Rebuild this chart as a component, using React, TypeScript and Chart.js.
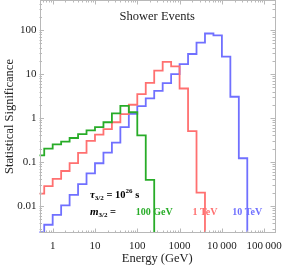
import React, { useEffect, useRef } from 'react';
import { Chart, registerables } from 'chart.js';

Chart.register(...registerables);

// Histogram bin edges (GeV), 5 bins per decade
const binEdges = [
  0.3981, 0.631, 1, 1.585, 2.512, 3.981, 6.31, 10, 15.85, 25.12, 39.81, 63.1,
  100, 158.5, 251.2, 398.1, 631, 1000, 1585, 2512, 3981, 6310, 10000, 15850,
  25120, 39810, 63100,
];

// Statistical significance per bin (starting at first edge)
const green100GeV = [0.14, 0.2, 0.25, 0.29, 0.35, 0.43, 0.52, 0.62, 0.8, 1.28, 1.88, 1.35, 0.4, 0.039];
const red1TeV = [0.019, 0.028, 0.041, 0.062, 0.094, 0.16, 0.3, 0.42, 0.56, 0.8, 1.22, 2.0, 3.5, 6.3, 12, 19, 15, 4.7, 0.5, 0.02];
const blue10TeV = [
  0.0025, 0.0037, 0.0062, 0.0102, 0.0177, 0.031, 0.055, 0.093, 0.163, 0.275, 0.62, 1.25,
  1.87, 2.8, 4.15, 6.2, 10, 16.8, 28.7, 52, 84, 76, 25, 3.05, 0.121,
];

const seriesValues = [green100GeV, red1TeV, blue10TeV];
const seriesNames = ['100 GeV', '1 TeV', '10 TeV'];
const seriesColors = ['rgb(40,172,40)', 'rgb(255,112,112)', 'rgb(112,112,255)'];

const xTickValues = [1, 10, 100, 1000, 10000, 100000];
const xTickLabels = ['1', '10', '100', '1000', '10\u2009000', '100\u2009000'];
const yTickValues = [0.01, 0.1, 1, 10, 100];
const yTickLabels = ['0.01', '0.1', '1', '10', '100'];

const chartTitle = 'Shower Events';
const xTitle = 'Energy (GeV)';
const yTitle = 'Statistical Significance';
const lifetimeBase = '10';
const lifetimeExp = '26';

const X_MIN = 0.488;
const X_MAX = 180000;
const Y_MIN = 0.0024;
const Y_MAX = 487;

const SERIF = "'Liberation Serif', 'Times New Roman', serif";

function histPoints(values: number[]) {
  const pts: { x: number; y: number }[] = values.map((v, i) => ({ x: binEdges[i], y: v }));
  const n = values.length;
  pts.push({ x: binEdges[n], y: values[n - 1] });
  pts.push({ x: binEdges[n], y: 1e-7 });
  return pts;
}

const framePlugin = {
  id: 'mmaFrame',
  afterDatasetsDraw(chart: any) {
    const { ctx, chartArea, scales } = chart;
    const { left, right, top, bottom } = chartArea;
    const xs = scales.x;
    const ys = scales.y;
    ctx.save();
    ctx.strokeStyle = '#b8b8b8';
    ctx.lineWidth = 1;
    ctx.strokeRect(Math.round(left) + 0.5, Math.round(top) + 0.5, Math.round(right - left) - 1, Math.round(bottom - top) - 1);
    ctx.beginPath();
    for (let d = -1; d <= 6; d++) {
      for (let m = 1; m <= 9; m++) {
        const v = m * Math.pow(10, d);
        if (v < X_MIN || v > X_MAX) continue;
        const px = Math.round(xs.getPixelForValue(v)) + 0.5;
        const len = m === 1 ? 4.5 : 2.5;
        ctx.moveTo(px, bottom);
        ctx.lineTo(px, bottom - len);
        ctx.moveTo(px, top);
        ctx.lineTo(px, top + len);
      }
    }
    for (let d = -4; d <= 3; d++) {
      for (let m = 1; m <= 9; m++) {
        const v = m * Math.pow(10, d);
        if (v < Y_MIN || v > Y_MAX) continue;
        const py = Math.round(ys.getPixelForValue(v)) + 0.5;
        const len = m === 1 ? 4.5 : 2.5;
        ctx.moveTo(left, py);
        ctx.lineTo(left + len, py);
        ctx.moveTo(right, py);
        ctx.lineTo(right - len, py);
      }
    }
    ctx.stroke();
    ctx.restore();
  },
};

type Piece = { t: string; font: string; dy?: number; color?: string };

function drawPieces(ctx: CanvasRenderingContext2D, x: number, y: number, pieces: Piece[], center = false) {
  let total = 0;
  for (const p of pieces) {
    ctx.font = p.font;
    total += ctx.measureText(p.t).width;
  }
  let cx = center ? x - total / 2 : x;
  for (const p of pieces) {
    ctx.font = p.font;
    ctx.fillStyle = p.color || '#000';
    ctx.fillText(p.t, cx, y + (p.dy || 0));
    cx += ctx.measureText(p.t).width;
  }
}

const textPlugin = {
  id: 'mmaText',
  afterDraw(chart: any) {
    const { ctx, chartArea, scales } = chart;
    const xs = scales.x;
    const ys = scales.y;
    ctx.save();
    ctx.textBaseline = 'middle';
    ctx.textAlign = 'left';
    // title
    ctx.font = `12.5px ${SERIF}`;
    ctx.fillStyle = '#222';
    ctx.textAlign = 'center';
    ctx.fillText(chartTitle, (chartArea.left + chartArea.right) / 2, chartArea.top + 17);
    ctx.textAlign = 'left';

    const main = `bold 10.5px ${SERIF}`;
    const ital = `italic bold 11px ${SERIF}`;
    const small = `bold 7px ${SERIF}`;
    const rowTau = ys.getPixelForValue(0.0176);
    const rowMass = ys.getPixelForValue(0.0072);
    const xStart = xs.getPixelForValue(7.6);
    drawPieces(ctx, xStart, rowTau, [
      { t: 'τ', font: ital },
      { t: '3/2', font: small, dy: 3 },
      { t: ' = ' + lifetimeBase, font: main },
      { t: lifetimeExp, font: small, dy: -4 },
      { t: ' s', font: main },
    ]);
    drawPieces(ctx, xStart, rowMass, [
      { t: 'm', font: ital },
      { t: '3/2', font: small, dy: 3 },
      { t: ' =', font: main },
    ]);
    seriesValues.forEach((vals, i) => {
      const edge = binEdges[vals.length];
      drawPieces(ctx, xs.getPixelForValue(edge), rowMass, [
        { t: seriesNames[i], font: `bold 10px ${SERIF}`, color: seriesColors[i] },
      ], true);
    });
    ctx.restore();
  },
};

export default function App() {
  const canvasRef = useRef<HTMLCanvasElement | null>(null);

  useEffect(() => {
    const canvas = canvasRef.current;
    if (!canvas) return;
    const datasets = seriesValues.map((vals, i) => ({
      label: seriesNames[i],
      data: histPoints(vals),
      borderColor: seriesColors[i],
      backgroundColor: seriesColors[i],
      borderWidth: 1.8,
      pointRadius: 0,
      stepped: true as const,
      fill: false,
      tension: 0,
    }));
    const chart = new Chart(canvas, {
      type: 'line',
      data: { datasets },
      options: {
        animation: false,
        responsive: true,
        maintainAspectRatio: false,
        devicePixelRatio: 1,
        layout: { padding: { left: 0, right: 8, top: 0, bottom: 0 } },
        plugins: {
          legend: { display: false },
          tooltip: { enabled: false },
          title: { display: false },
        },
        scales: {
          x: {
            type: 'logarithmic',
            min: X_MIN,
            max: X_MAX,
            grid: { display: false, drawTicks: false },
            border: { display: false },
            afterBuildTicks: (scale: any) => {
              scale.ticks = xTickValues.map((v) => ({ value: v }));
            },
            ticks: {
              autoSkip: false,
              maxRotation: 0,
              padding: 7,
              color: '#222',
              font: { family: SERIF, size: 11 },
              callback: (value: any) => {
                const idx = xTickValues.indexOf(Number(value));
                return idx >= 0 ? xTickLabels[idx] : '';
              },
            },
            title: {
              display: true,
              text: xTitle,
              color: '#222',
              font: { family: SERIF, size: 12.5 },
              padding: { top: 0, bottom: 0 },
            },
            afterFit: (scale: any) => {
              scale.height = 33;
              scale.paddingLeft = 0;
              scale.paddingRight = 0;
            },
          },
          y: {
            type: 'logarithmic',
            min: Y_MIN,
            max: Y_MAX,
            grid: { display: false, drawTicks: false },
            border: { display: false },
            afterBuildTicks: (scale: any) => {
              scale.ticks = yTickValues.map((v) => ({ value: v }));
            },
            ticks: {
              autoSkip: false,
              padding: 3,
              color: '#222',
              font: { family: SERIF, size: 11 },
              callback: (value: any) => {
                const idx = yTickValues.indexOf(Number(value));
                return idx >= 0 ? yTickLabels[idx] : '';
              },
            },
            title: {
              display: true,
              text: yTitle,
              color: '#222',
              font: { family: SERIF, size: 12.5 },
              padding: { top: 2.5, bottom: 0 },
            },
            afterFit: (scale: any) => {
              scale.width = 39.5;
              scale.paddingTop = 0;
              scale.paddingBottom = 0;
            },
          },
        },
      },
      plugins: [framePlugin, textPlugin],
    });
    return () => chart.destroy();
  }, []);

  return (
    <div style={{ position: 'fixed', left: 0, top: 0, width: 283, height: 266, background: '#fff' }}>
      <canvas ref={canvasRef} />
    </div>
  );
}
